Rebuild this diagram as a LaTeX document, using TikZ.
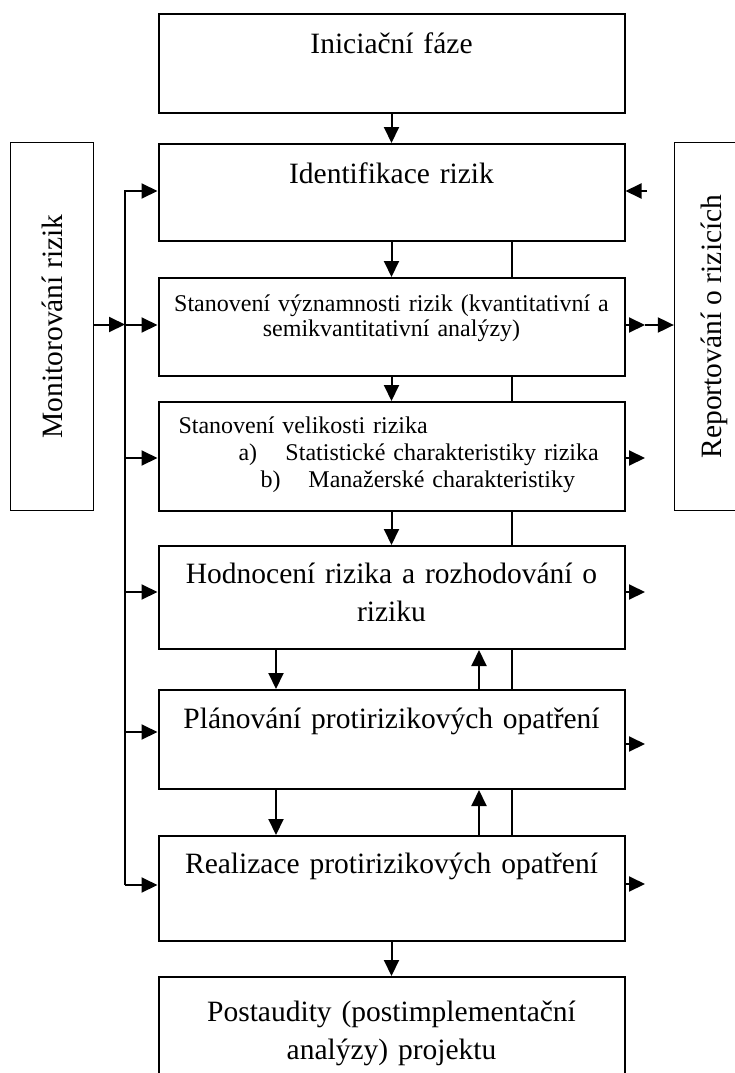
\documentclass[tikz,border=0pt]{standalone}
\usepackage{fontspec}
\setmainfont{Liberation Serif}
\usepackage{graphicx}
\usetikzlibrary{arrows.meta}

\newcommand{\bigtxt}{\fontsize{29.5}{38}\selectfont}
\newcommand{\midtxt}{\fontsize{24}{25.5}\selectfont}

\tikzset{
  box/.style={draw, line width=2pt, inner xsep=0pt, inner ysep=0pt,
    minimum width=466pt, text width=440pt, align=center, anchor=north, font=\bigtxt},
  sidebox/.style={draw, line width=1.3pt, inner sep=0pt,
    minimum width=83pt, minimum height=368pt, font=\bigtxt},
  arr/.style={line width=2pt, -{Triangle[length=16pt, width=15pt]}},
  thinln/.style={line width=1.4pt}
}

\begin{document}
\begin{tikzpicture}[x=1pt, y=-1pt]
    \useasboundingbox (0,0) rectangle (734,1073);

    % main chain
    \node[box, text height=40pt, text depth=59pt] (init) at (391.5,13) {Iniciační fáze};
    \node[box, text height=39pt, text depth=58pt] (ident) at (391.5,143) {Identifikace rizik};
    \node[box, font=\midtxt, text height=33pt, text depth=65pt] (signif) at (391.5,277)
        {Stanovení významnosti rizik (kvantitativní a\\ semikvantitativní analýzy)};
    \node[box, font=\midtxt, text width=426pt, align=left, text height=31pt, text depth=78pt] (size) at (391.5,401)
        {Stanovení velikosti rizika\\[1.5pt]
         \hspace*{60pt}\makebox[47pt][l]{a)}Statistické charakteristiky rizika\\[1.5pt]
         \hspace*{82pt}\makebox[48pt][l]{b)}Manažerské charakteristiky};
    \node[box, text height=37pt, text depth=66pt] (eval) at (391.5,545)
        {Hodnocení rizika a rozhodování o\\ riziku};
    \node[box, text height=38pt, text depth=61pt] (plan) at (391.5,689)
        {Plánování protirizikových opatření};
    \node[box, text height=37pt, text depth=68pt] (real) at (391.5,835)
        {Realizace protirizikových opatření};
    \node[box, text height=44pt, text depth=70pt] (post) at (391.5,976)
        {Postaudity (postimplementační\\ analýzy) projektu};

    % side boxes
    \node[sidebox] (mon) at (52,326.5) {\rotatebox{90}{Monitorování rizik}};
    \node[sidebox, minimum width=80pt] (report) at (714.5,326.5) {\rotatebox{90}{Reportování o rizicích}};

    % helper columns
    \coordinate (bus) at (125,0);
    \coordinate (rl) at (512,0);
    \coordinate (dl) at (276,0);
    \coordinate (ul) at (479,0);
    \coordinate (ra) at (645,0);
    \coordinate (rb) at (647,0);

    % vertical flow
    \draw[arr] (init.south) -- (ident.north);
    \draw[arr] (ident.south) -- (signif.north);
    \draw[arr] (signif.south) -- (size.north);
    \draw[arr] (size.south) -- (eval.north);
    \draw[arr] (eval.south -| dl) -- (plan.north -| dl);
    \draw[arr] (plan.north -| ul) -- (eval.south -| ul);
    \draw[arr] (plan.south -| dl) -- (real.north -| dl);
    \draw[arr] (real.north -| ul) -- (plan.south -| ul);
    \draw[arr] (real.south) -- (post.north);

    % thin links on the right
    \draw[thinln] (ident.south -| rl) -- (signif.north -| rl);
    \draw[thinln] (signif.south -| rl) -- (size.north -| rl);
    \draw[thinln] (size.south -| rl) -- (eval.north -| rl);
    \draw[thinln] (eval.south -| rl) -- (plan.north -| rl);
    \draw[thinln] (plan.south -| rl) -- (real.north -| rl);

    % monitoring bus
    \draw[arr] ([yshift=3.5pt]real.west -| bus) |- ([yshift=1.5pt]ident.west);
    \foreach \b/\s in {signif/2, size/-1.5, eval/5.5, plan/7.5, real/3.5}
        \draw[arr] ([yshift=\s pt]\b.west -| bus) -- ([yshift=\s pt]\b.west);
    \draw[arr] ([yshift=2pt]mon.east) -- ([yshift=2pt]mon.east -| bus);

    % reporting
    \draw[arr] ([yshift=1.5pt]ident.east -| rb) -- ([yshift=1.5pt]ident.east);
    \foreach \b/\s in {signif/2, size/-1.5, eval/5.5, plan/-4.5, real/4.5}
        \draw[arr] ([yshift=\s pt]\b.east) -- ([yshift=\s pt]\b.east -| ra);
    \draw[arr] ([yshift=2pt]signif.east -| ra) -- ([yshift=2pt]signif.east -| report.west);
\end{tikzpicture}
\end{document}
